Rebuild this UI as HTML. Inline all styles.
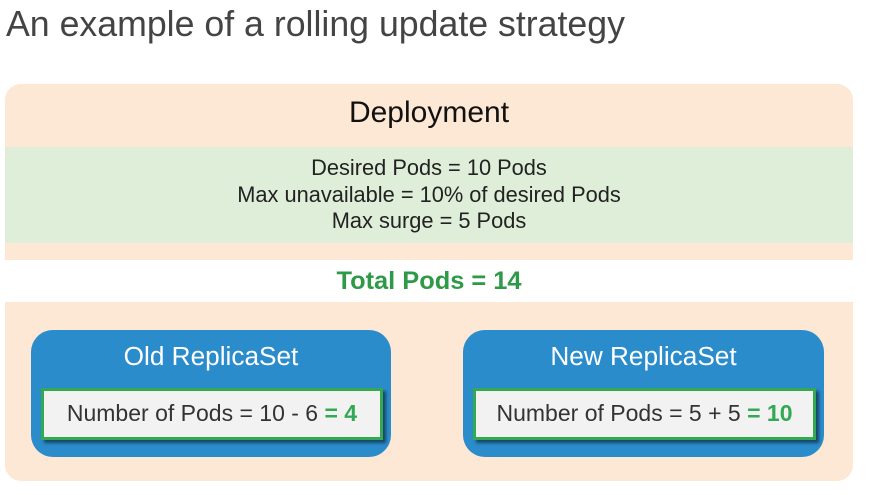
<!DOCTYPE html>
<html><head><style>
body{margin:0;width:886px;height:495px;background:#fff;font-family:"Liberation Sans",sans-serif;position:relative;overflow:hidden}
div{position:absolute;box-sizing:border-box}
.t{white-space:nowrap}
</style></head><body>
<div class="t" style="left:6px;top:4px;font-size:35.7px;color:#444">An example of a rolling update strategy</div>
<div style="left:5px;top:84px;width:848px;height:397px;background:#fce8d4;border-radius:16px"></div>
<div class="t" style="left:5px;top:96px;width:848px;text-align:center;font-size:30px;color:#111">Deployment</div>
<div style="left:5px;top:147px;width:848px;height:96px;background:#dfeed8"></div>
<div style="left:5px;top:155px;width:848px;text-align:center;font-size:21.8px;line-height:26.5px;color:#222">Desired Pods = 10 Pods<br>Max unavailable = 10% of desired Pods<br>Max surge = 5 Pods</div>
<div style="left:5px;top:260px;width:848px;height:42px;background:#fff"></div>
<div class="t" style="left:5px;top:267px;width:848px;text-align:center;font-size:25.4px;font-weight:bold;color:#2e9a48">Total Pods = 14</div>
<div style="left:31px;top:330px;width:360px;height:127px;background:#2b8ccc;border-radius:22px"></div>
<div class="t" style="left:31px;top:341px;width:360px;text-align:center;font-size:26.2px;color:#fff">Old ReplicaSet</div>
<div style="left:41px;top:388px;width:342px;height:52px;background:#f2f2f2;border:3px solid #34a853;box-shadow:3px 3px 3px rgba(0,0,0,.5)"></div>
<div class="t" style="left:41px;top:400px;width:342px;text-align:center;font-size:23px;color:#333">Number of Pods = 10 - 6 <b style="color:#34a853">= 4</b></div>
<div style="left:463px;top:330px;width:361px;height:127px;background:#2b8ccc;border-radius:22px"></div>
<div class="t" style="left:463px;top:341px;width:361px;text-align:center;font-size:26.2px;color:#fff">New ReplicaSet</div>
<div style="left:473px;top:388px;width:343px;height:52px;background:#f2f2f2;border:3px solid #34a853;box-shadow:3px 3px 3px rgba(0,0,0,.5)"></div>
<div class="t" style="left:473px;top:400px;width:343px;text-align:center;font-size:23px;color:#333">Number of Pods = 5 + 5 <b style="color:#34a853">= 10</b></div>
</body></html>
